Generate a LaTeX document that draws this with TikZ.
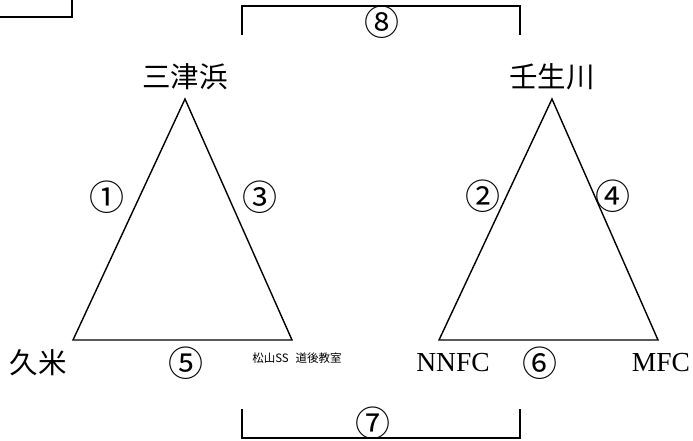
\documentclass[tikz,border=0pt]{standalone}
\usepackage{fontspec}
\setmainfont{Liberation Serif}
\newfontfamily\cjk{Noto Sans CJK JP}
\tikzset{
  edge/.style={line width=1.4pt, line join=miter},
  bracket/.style={line width=1.8pt},
  place/.style={font=\cjk\fontsize{28.5}{30}\selectfont, inner sep=0pt},
  latinplace/.style={font=\fontsize{27.5}{30}\selectfont, inner sep=0pt},
  num/.style={font=\cjk\fontsize{35}{37}\selectfont, inner sep=0pt},
  small/.style={font=\cjk\fontsize{11.5}{13}\selectfont, inner sep=0pt}
}
\begin{document}
\begin{tikzpicture}[x=1pt,y=-1pt]
\useasboundingbox (0,0) rectangle (693,441);
% top-left partial box
\coordinate (tl1) at (0,17);
\coordinate (tl2) at (72,17);
\coordinate (tl3) at (72,0);
\draw[bracket] (tl1) -- (tl2) -- (tl3);
% left triangle
\coordinate (A) at (185,99);
\coordinate (B) at (73,340);
\coordinate (C) at (292,340);
\draw[edge] (A) -- (B) -- (C) -- cycle;
% right triangle
\coordinate (D) at (552,99);
\coordinate (E) at (439,340);
\coordinate (F) at (658,340);
\draw[edge] (D) -- (E) -- (F) -- cycle;
% labels
\node[place] (mitsu) at (185,77) {三津浜};
\node[place] (nyu) at (552,77) {壬生川};
\node[place] (kume) at (38,363) {久米};
\node[latinplace] (nnfc) at (453,363) {NNFC};
\node[latinplace] (mfc) at (661,363) {MFC};
\node[small] (ss) at (297,358) {松山SS\hspace{0.6em}道後教室};
\node[num] (n1) at (107,197) {①};
\node[num] (n3) at (260,197) {③};
\node[num] (n2) at (483,196) {②};
\node[num] (n4) at (613,196) {④};
\node[num] (n5) at (186,363) {⑤};
\node[num] (n6) at (540,363) {⑥};
\node[num] (n8) at (382,22) {⑧};
\node[num] (n7) at (373,423) {⑦};
% brackets
\coordinate (t1) at (242,35);
\coordinate (t2) at (242,6);
\coordinate (t3) at (520,6);
\coordinate (t4) at (520,35);
\draw[bracket] (t1) -- (t2) -- (t3) -- (t4);
\coordinate (b1) at (242,409);
\coordinate (b2) at (242,438);
\coordinate (b3) at (520,438);
\coordinate (b4) at (520,409);
\draw[bracket] (b1) -- (b2) -- (b3) -- (b4);
\end{tikzpicture}
\end{document}
